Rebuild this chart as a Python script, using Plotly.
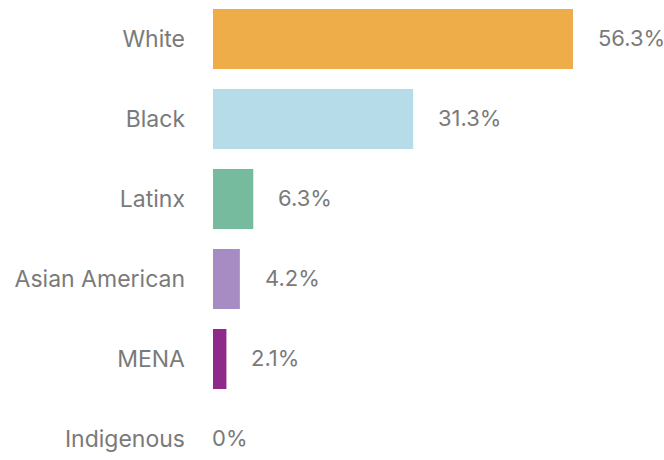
import plotly.graph_objects as go

categories = ["White", "Black", "Latinx", "Asian American", "MENA", "Indigenous"]
values = [56.3, 31.3, 6.3, 4.2, 2.1, 0]
labels = ["56.3%", "31.3%", "6.3%", "4.2%", "2.1%", "0%"]
colors = ["#EEAD48", "#B6DCEA", "#77BB9F", "#A78CC4", "#8E2A8B", "#CCCCCC"]

FONT = "Inter, Noto Sans, sans-serif"
TXT = "#7a7a7a"

fig = go.Figure(go.Bar(
    x=values, y=categories, orientation="h",
    marker=dict(color=colors, line=dict(width=0)),
    width=0.75, hoverinfo="skip",
))

for c, v, t in zip(categories, values, labels):
    fig.add_annotation(x=v, y=c, text=t, showarrow=False, xanchor="left",
                       xshift=23 if v > 0 else -3, yshift=1,
                       font=dict(family=FONT, size=22, color=TXT))

fig.update_layout(
    width=664, height=460,
    margin=dict(l=213, r=0, t=0, b=0),
    paper_bgcolor="white", plot_bgcolor="white",
    showlegend=False,
    xaxis=dict(range=[0, 70.53], visible=False, fixedrange=True),
    yaxis=dict(categoryorder="array", categoryarray=categories,
               range=[5.2625, -0.4875], showgrid=False, zeroline=False,
               showline=False, ticks="", ticklabelstandoff=27,
               tickfont=dict(family=FONT, size=23, color=TXT)),
)

fig.write_html("out.html", config={"displayModeBar": False},
               post_script="document.body.style.margin='0';document.body.style.overflow='hidden';")
